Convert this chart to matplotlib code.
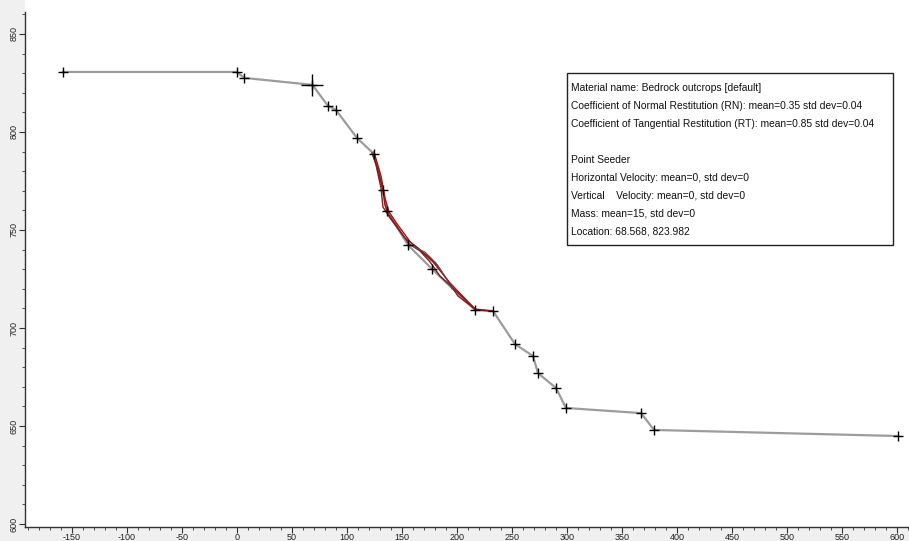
import matplotlib
matplotlib.use("Agg")
import matplotlib.pyplot as plt
from matplotlib.ticker import MultipleLocator
from matplotlib.patches import Rectangle

plt.rcParams['font.family'] = ['Liberation Sans', 'DejaVu Sans']
plt.rcParams['axes.unicode_minus'] = False

# slope profile vertices (x, elevation)
slope_x = [-158.2, 0.0, 6.4, 68.6, 82.7, 90.0, 109.1, 124.5, 132.7, 136.4, 155.5,
           177.3, 216.4, 232.7, 252.7, 269.1, 273.6, 290.0, 299.1, 367.3, 379.1, 600.9]
slope_y = [830.6, 830.6, 827.6, 824.0, 813.3, 811.2, 796.9, 788.8, 770.4, 759.7, 742.3,
           730.1, 709.2, 708.7, 691.8, 685.7, 677.0, 669.4, 659.2, 656.6, 648.0, 644.9]

seed_x, seed_y = 68.568, 823.982

# rock paths
path1_x = [123.6, 128.2, 132.7, 134.5, 137.3, 146.4, 156.4, 166.4, 175.5, 184.5, 198.2, 216.4, 231.8]
path1_y = [788.8, 780.6, 770.4, 762.8, 758.2, 751.0, 742.9, 739.3, 733.7, 726.5, 719.4, 709.7, 708.7]
path2_x = [124.5, 130.9, 134.5, 138.2, 145.5, 158.2, 173.6, 182.7, 200.9, 217.3, 230.0]
path2_y = [789.8, 777.6, 766.3, 759.2, 753.1, 743.4, 736.7, 731.6, 716.3, 709.2, 708.7]
path3_x = [122.7, 126.4, 130.9, 132.7, 139.1, 152.7, 164.5, 178.2, 193.6, 215.5]
path3_y = [789.3, 783.2, 771.4, 761.7, 756.1, 745.9, 740.8, 733.7, 723.0, 710.2]
bounce_x = [159.1, 170.9, 180.9, 188.2, 195.5]
bounce_y = [741.8, 738.8, 733.2, 727.0, 719.9]

info_lines = [
    "Material name: Bedrock outcrops [default]",
    "Coefficient of Normal Restitution (RN): mean=0.35 std dev=0.04",
    "Coefficient of Tangential Restitution (RT): mean=0.85 std dev=0.04",
    "",
    "Point Seeder",
    "Horizontal Velocity: mean=0, std dev=0",
    "Vertical    Velocity: mean=0, std dev=0",
    "Mass: mean=15, std dev=0",
    "Location: 68.568, 823.982",
]

W, H = 909, 541
fig = plt.figure(figsize=(W / 100, H / 100), dpi=100, facecolor='#f0f0f0')
ax = fig.add_axes([25 / W, (H - 527) / H, (W - 25) / W, 527 / H])
ax.set_facecolor('white')

ax.plot(slope_x, slope_y, color='#9c9c9c', lw=1.6, zorder=2)
ax.plot(slope_x, slope_y, ls='none', marker='+', ms=7, mew=1.0, color='black', zorder=4)
ax.plot([seed_x], [seed_y], marker='+', ms=16, mew=1.0, color='black', zorder=5)

for px, py in [(path1_x, path1_y), (path2_x, path2_y), (path3_x, path3_y)]:
    ax.plot(px, py, color='#8b1a1a', lw=1.0, zorder=3)
ax.plot(bounce_x, bounce_y, color='#555555', lw=0.7, zorder=3)

ax.set_xlim(-192.7, 610.9)
ax.set_ylim(598.5, 867.3)
for s in ['top', 'right']:
    ax.spines[s].set_visible(False)
for s in ['left', 'bottom']:
    ax.spines[s].set_color('#333333')
    ax.spines[s].set_linewidth(1.0)
ax.spines['left'].set_bounds(598.5, 861.0)

ax.xaxis.set_major_locator(MultipleLocator(50))
ax.xaxis.set_minor_locator(MultipleLocator(10))
ax.yaxis.set_major_locator(MultipleLocator(50))
ax.yaxis.set_minor_locator(MultipleLocator(10))
ax.tick_params(which='major', length=4, width=0.8, color='#333333', labelsize=6.5,
               labelcolor='#222222', pad=0.5)
ax.tick_params(which='minor', length=2.5, width=0.6, color='#333333')
ax.set_yticks([y for y in range(600, 861, 10)], minor=True)
for lab in ax.get_yticklabels():
    lab.set_rotation(90)
    lab.set_va('center')

# info box in pixel layout
bx0, bx1, by0, by1 = 567, 893, 73, 245
fig.patches.append(Rectangle((bx0 / W, 1 - by1 / H), (bx1 - bx0) / W, (by1 - by0) / H,
                             transform=fig.transFigure, facecolor='white',
                             edgecolor='#222222', lw=1.0, zorder=10))
for i, line in enumerate(info_lines):
    fig.text(571 / W, 1 - (88 + i * 18) / H, line, fontsize=7.4, va='center', ha='left',
             color='#111111', zorder=11)

fig.savefig('out.png', dpi=100, facecolor=fig.get_facecolor())
